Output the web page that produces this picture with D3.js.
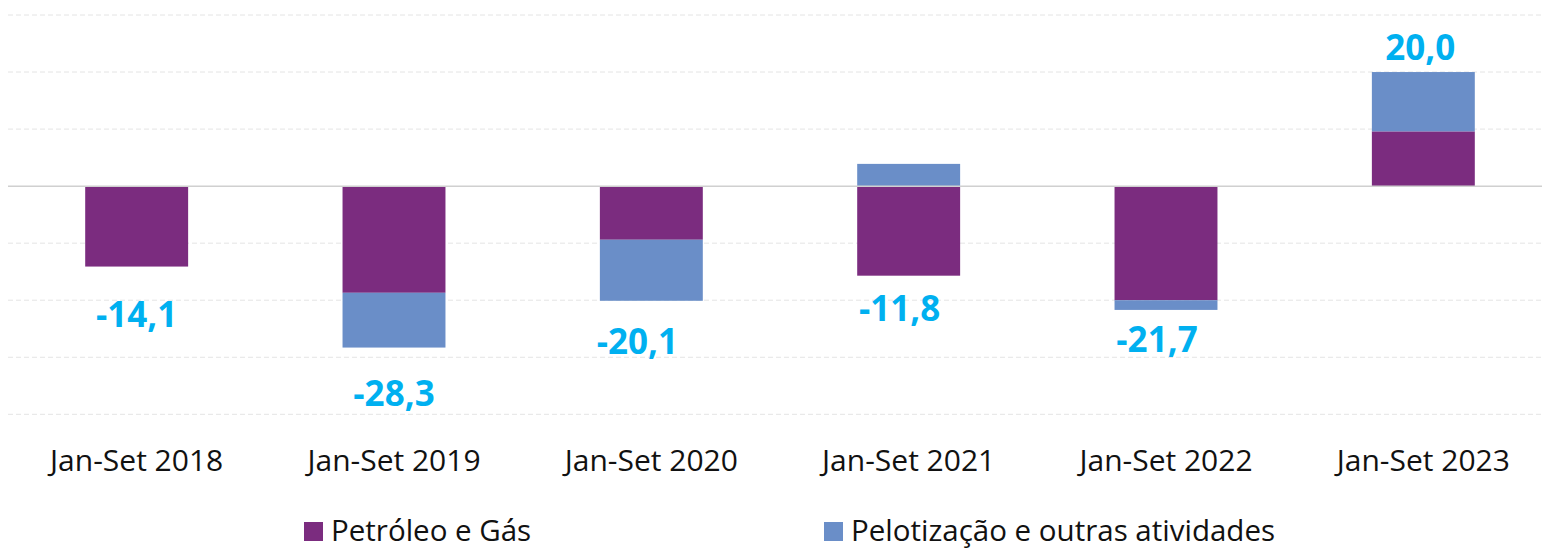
<!DOCTYPE html>
<html>
<head>
<meta charset="utf-8">
<script src="https://cdn.jsdelivr.net/npm/d3@7"></script>
<style>
  body { margin: 0; background: #fff; }
  svg { font-family: "Open Sans", "Noto Sans", sans-serif; }
</style>
</head>
<body>
<div id="chart"></div>
<script>
// categories and series
const categories = ['Jan-Set 2018', 'Jan-Set 2019', 'Jan-Set 2020', 'Jan-Set 2021', 'Jan-Set 2022', 'Jan-Set 2023']
const petroleo = [-14.1, -18.7, -9.4, -15.7, -20.0, 9.6]
const pelotizacao = [0, -9.6, -10.7, 3.9, -1.7, 10.4]
const totals = [-14.1, -28.3, -20.1, -11.8, -21.7, 20.0]
const seriesNames = ['Petróleo e Gás', 'Pelotização e outras atividades']
const yTicks = [-40, -30, -20, -10, 0, 10, 20, 30]

// label nudges (px), labels were hand placed in the original
const labelDx = [0, 0, -14, -9, -9, -3]
const labelDy = [60, 58, 53, 45, 42, -12]

const colors = ['#7b2c7f', '#6a8ec8']

var width = 1542, height = 550

const svg = d3.select('#chart')
  .append('svg')
    .attr('width', width)
    .attr('height', height)

var x = d3.scaleBand()
  .domain(categories)
  .range([8, 1552])
  .paddingInner(0.6)
  .paddingOuter(0.3)

var y = d3.scaleLinear()
  .domain([-40, 30])
  .range([414.3, 15])

// dashed gridlines
svg.append('g')
  .selectAll('line')
  .data(yTicks.filter(d => d !== 0))
  .join('line')
    .attr('x1', 8)
    .attr('x2', width)
    .attr('y1', d => y(d))
    .attr('y2', d => y(d))
    .attr('stroke', '#e4e4e4')
    .attr('stroke-width', 1)
    .attr('stroke-dasharray', '5,3')

// stack positives up and negatives down
var rows = categories.map(function(c, i) {
  var vals = [petroleo[i], pelotizacao[i]]
  var pos = 0, neg = 0
  return vals.map(function(v, k) {
    var y0, y1
    if (v >= 0) { y0 = pos; y1 = pos + v; pos = y1 }
    else { y0 = neg; y1 = neg + v; neg = y1 }
    return {cat: c, k: k, y0: y0, y1: y1, v: v, pos: pos, neg: neg}
  })
})

var segs = [].concat.apply([], rows).filter(d => d.v !== 0)

svg.append('g')
  .selectAll('rect')
  .data(segs)
  .join('rect')
    .attr('x', d => x(d.cat))
    .attr('width', x.bandwidth())
    .attr('y', d => y(Math.max(d.y0, d.y1)))
    .attr('height', d => Math.abs(y(d.y0) - y(d.y1)))
    .attr('fill', d => colors[d.k])

// zero line
svg.append('line')
  .attr('x1', 8)
  .attr('x2', width)
  .attr('y1', y(0))
  .attr('y2', y(0))
  .attr('stroke', '#d0d0d0')
  .attr('stroke-width', 1.5)

// total labels
svg.append('g')
  .selectAll('text')
  .data(totals)
  .join('text')
    .attr('x', (d, i) => x(categories[i]) + x.bandwidth() / 2 + labelDx[i])
    .attr('y', function(d, i) {
      var last = rows[i][rows[i].length - 1]
      var edge = d < 0 ? last.neg : last.pos
      return y(edge) + labelDy[i]
    })
    .attr('text-anchor', 'middle')
    .attr('fill', '#00b0f0')
    .attr('font-weight', 'bold')
    .attr('font-size', '35px')
    .text(d => d3.format('.1f')(d).replace('.', ',').replace('\u2212', '-'))

// category labels
svg.append('g')
  .selectAll('text')
  .data(categories)
  .join('text')
    .attr('x', d => x(d) + x.bandwidth() / 2)
    .attr('y', 471)
    .attr('text-anchor', 'middle')
    .attr('fill', '#111')
    .attr('font-size', '30px')
    .text(d => d)

// legend
const legendX = [304, 824]
var legend = svg.append('g')
  .selectAll('g')
  .data(seriesNames)
  .join('g')
    .attr('transform', (d, i) => 'translate(' + legendX[i] + ',0)')

legend.append('rect')
  .attr('x', 0)
  .attr('y', 522)
  .attr('width', 19)
  .attr('height', 19)
  .attr('fill', (d, i) => colors[i])

legend.append('text')
  .attr('x', 27)
  .attr('y', 541)
  .attr('fill', '#111')
  .attr('font-size', '29.5px')
  .text(d => d)
</script>
</body>
</html>
